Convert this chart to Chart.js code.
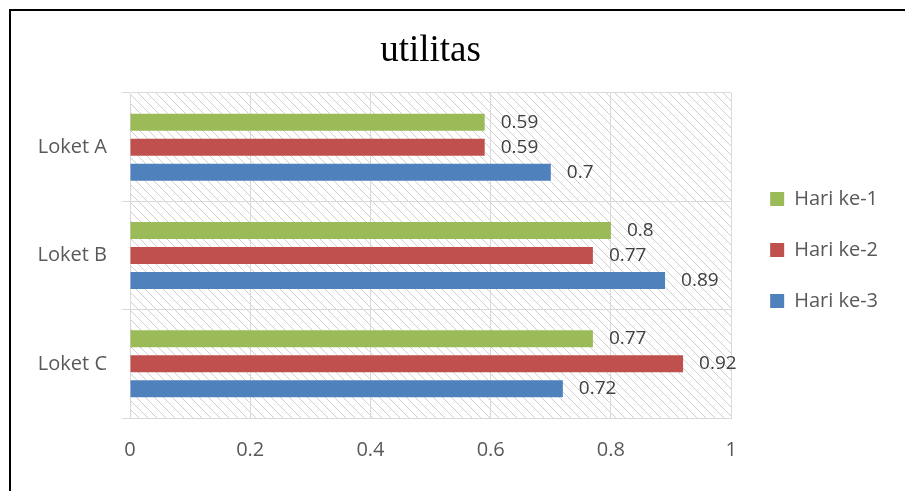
<!DOCTYPE html>
<html>
<head>
<meta charset="utf-8">
<title>utilitas</title>
<script src="https://cdn.jsdelivr.net/npm/chart.js@4/dist/chart.umd.min.js"></script>
<style>
  html, body { margin: 0; padding: 0; background: #ffffff; }
  #wrap { position: relative; width: 905px; height: 491px; overflow: hidden; }
  #frame {
    position: absolute; left: 9px; top: 9px; width: 1200px; height: 1200px;
    border-left: 2px solid #000; border-top: 2px solid #000; pointer-events: none;
  }
  canvas { position: absolute; left: 0; top: 0; }
</style>
</head>
<body>
<div id="wrap">
  <canvas id="chart" width="905" height="491"></canvas>
  <div id="frame"></div>
</div>
<script>
// Categories and series
const categories = ['Loket A', 'Loket B', 'Loket C'];
const seriesNames = ['Hari ke-1', 'Hari ke-2', 'Hari ke-3'];
const hari1 = [0.59, 0.8, 0.77];
const hari2 = [0.59, 0.77, 0.92];
const hari3 = [0.7, 0.89, 0.72];
const xTicks = [0, 0.2, 0.4, 0.6, 0.8, 1];

const colors = ['#9BBB59', '#C0504D', '#4F81BD'];
const labelFont = { family: '"Open Sans", sans-serif', size: 20 };

// Diagonal hatch used behind the plot area
function makeHatch() {
  const s = 9;
  const c = document.createElement('canvas');
  c.width = s; c.height = s;
  const g = c.getContext('2d');
  g.fillStyle = '#ffffff';
  g.fillRect(0, 0, s, s);
  g.strokeStyle = '#d0d0d0';
  g.lineWidth = 1;
  g.beginPath();
  g.moveTo(-1, -1); g.lineTo(s + 1, s + 1);
  g.stroke();
  return g.createPattern(c, 'repeat');
}

const plotBackground = {
  id: 'plotBackground',
  beforeDraw(chart) {
    const { ctx, chartArea: a } = chart;
    ctx.save();
    ctx.fillStyle = makeHatch();
    ctx.fillRect(a.left, a.top, a.right - a.left, a.bottom - a.top);
    ctx.restore();
  }
};

// Value labels to the right of each bar
const valueLabels = {
  id: 'valueLabels',
  afterDatasetsDraw(chart) {
    const ctx = chart.ctx;
    ctx.save();
    ctx.font = '19px "Open Sans", sans-serif';
    ctx.fillStyle = '#404040';
    ctx.textAlign = 'left';
    ctx.textBaseline = 'middle';
    chart.data.datasets.forEach((ds, i) => {
      chart.getDatasetMeta(i).data.forEach((bar, j) => {
        ctx.fillText(String(ds.data[j]), bar.x + 16, bar.y);
      });
    });
    ctx.restore();
  }
};

const seriesValues = [hari1, hari2, hari3];

new Chart(document.getElementById('chart'), {
  type: 'bar',
  data: {
    labels: categories,
    datasets: seriesNames.map((name, i) => ({
      label: name,
      data: seriesValues[i],
      backgroundColor: colors[i],
      borderWidth: 0,
      categoryPercentage: 0.6925,
      barPercentage: 0.68
    }))
  },
  options: {
    indexAxis: 'y',
    responsive: false,
    animation: false,
    layout: { padding: { top: 9, left: 0, right: 18, bottom: 0 } },
    scales: {
      x: {
        min: 0,
        max: 1,
        afterBuildTicks(scale) {
          scale.ticks = xTicks.map(v => ({ value: v }));
        },
        afterFit(scale) { scale.height = 73; },
        grid: { color: '#d9d9d9', lineWidth: 1, drawTicks: false },
        border: { color: '#d9d9d9', width: 1 },
        ticks: {
          color: '#595959',
          font: labelFont,
          padding: 20,
          callback: (v) => String(Math.round(v * 10) / 10)
        }
      },
      y: {
        afterFit(scale) { scale.width = 130; },
        grid: { color: '#d9d9d9', lineWidth: 1, offset: true, tickLength: 8 },
        border: { color: '#d9d9d9', width: 1 },
        ticks: { color: '#595959', font: labelFont, padding: 15 }
      },
      yGap: {
        type: 'category',
        position: 'right',
        display: true,
        afterFit(scale) { scale.width = 8; },
        grid: { display: false, drawTicks: false },
        border: { display: false },
        ticks: { display: false }
      }
    },
    plugins: {
      title: {
        display: true,
        text: 'utilitas',
        fullSize: false,
        color: '#000000',
        font: { family: '"Liberation Serif", "Times New Roman", serif', size: 37, weight: 'normal', lineHeight: 1.2 },
        padding: { top: 20, bottom: 19.6 }
      },
      legend: {
        position: 'right',
        align: 'center',
        labels: {
          color: '#595959',
          font: labelFont,
          boxWidth: 14,
          boxHeight: 14,
          padding: 31
        }
      },
      tooltip: { enabled: false }
    }
  },
  plugins: [plotBackground, valueLabels]
});
</script>
</body>
</html>
